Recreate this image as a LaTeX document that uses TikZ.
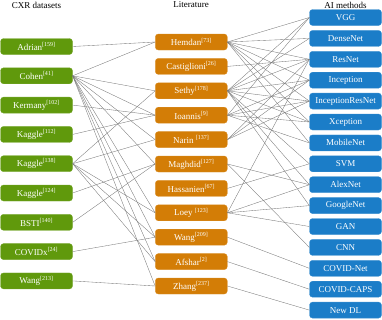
\documentclass[tikz,border=0pt]{standalone}
\usepackage{fontspec}
\setmainfont{Liberation Serif}
\definecolor{dgreen}{RGB}{96,153,12}
\definecolor{dorange}{RGB}{211,125,6}
\definecolor{dblue}{RGB}{27,125,200}
\definecolor{lnk}{RGB}{120,120,120}
\begin{document}
\begin{tikzpicture}[x=1pt,y=-1pt,
  box/.style={rounded corners=3pt,minimum width=72pt,minimum height=16pt,inner sep=0pt,text=white,font=\fontsize{9}{10}\selectfont,draw=#1!85!white,fill=#1,line width=0.3pt},
  hdr/.style={font=\fontsize{9}{10}\selectfont,inner sep=0pt},
  lk/.style={draw=lnk,line width=0.35pt}]
\useasboundingbox (0,0) rectangle (382,319);
% headers
\node[hdr] (h1) at (36.5,5) {CXR datasets};
\node[hdr] (h2) at (191,5) {Literature};
\node[hdr] (h3) at (345.5,5) {AI methods};
% datasets
\foreach \n/\t [count=\i from 0] in {g1/Adrian\textsuperscript{[159]},g2/Cohen\textsuperscript{[41]},g3/Kermany\textsuperscript{[102]},g4/Kaggle\textsuperscript{[112]},g5/Kaggle\textsuperscript{[138]},g6/Kaggle\textsuperscript{[124]},g7/BSTI\textsuperscript{[140]},g8/COVIDx\textsuperscript{[24]},g9/Wang\textsuperscript{[213]}}
  \node[box=dgreen] (\n) at (36.5,{46.5+29.3*\i}) {\t};
% literature
\foreach \n/\t [count=\i from 0] in {o1/Hemdan\textsuperscript{[73]},o2/Castiglioni\textsuperscript{[26]},o3/Sethy\textsuperscript{[178]},o4/Ioannis\textsuperscript{[9]},o5/Narin \textsuperscript{[137]},o6/Maghdid\textsuperscript{[127]},o7/Hassanien\textsuperscript{[67]},o8/Loey \textsuperscript{[123]},o9/Wang\textsuperscript{[209]},o10/Afshar\textsuperscript{[2]},o11/Zhang\textsuperscript{[237]}}
  \node[box=dorange] (\n) at (191.3,{42+24.4*\i}) {\t};
% AI methods
\foreach \n/\t [count=\i from 0] in {b1/VGG,b2/DenseNet,b3/ResNet,b4/Inception,b5/InceptionResNet,b6/Xception,b7/MobileNet,b8/SVM,b9/AlexNet,b10/GoogleNet,b11/GAN,b12/CNN,b13/COVID-Net,b14/COVID-CAPS,b15/New DL}
  \node[box=dblue] (\n) at (345.5,{17.5+20.9*\i}) {\t};
% dataset -> literature
\foreach \a/\b in {g1/o1,g2/o1,g2/o3,g2/o4,g2/o5,g2/o6,g2/o8,g2/o9,g2/o10,g2/o11,g3/o4,g4/o4,g5/o3,g5/o5,g5/o8,g5/o9,g5/o10,g6/o6,g7/o6,g8/o9,g9/o11}
  \draw[lk] (\a.east) -- (\b.west);
% literature -> methods
\foreach \a/\b in {o1/b1,o1/b2,o1/b3,o1/b4,o1/b5,o1/b6,o1/b7,o2/b3,o3/b1,o3/b2,o3/b3,o3/b4,o3/b5,o3/b6,o3/b8,o3/b9,o3/b10,o4/b1,o4/b4,o4/b5,o4/b6,o4/b7,o5/b3,o5/b4,o5/b5,o6/b9,o6/b12,o7/b8,o8/b3,o8/b9,o8/b10,o8/b11,o9/b13,o10/b14,o11/b15}
  \draw[lk] (\a.east) -- (\b.west);
\end{tikzpicture}
\end{document}
